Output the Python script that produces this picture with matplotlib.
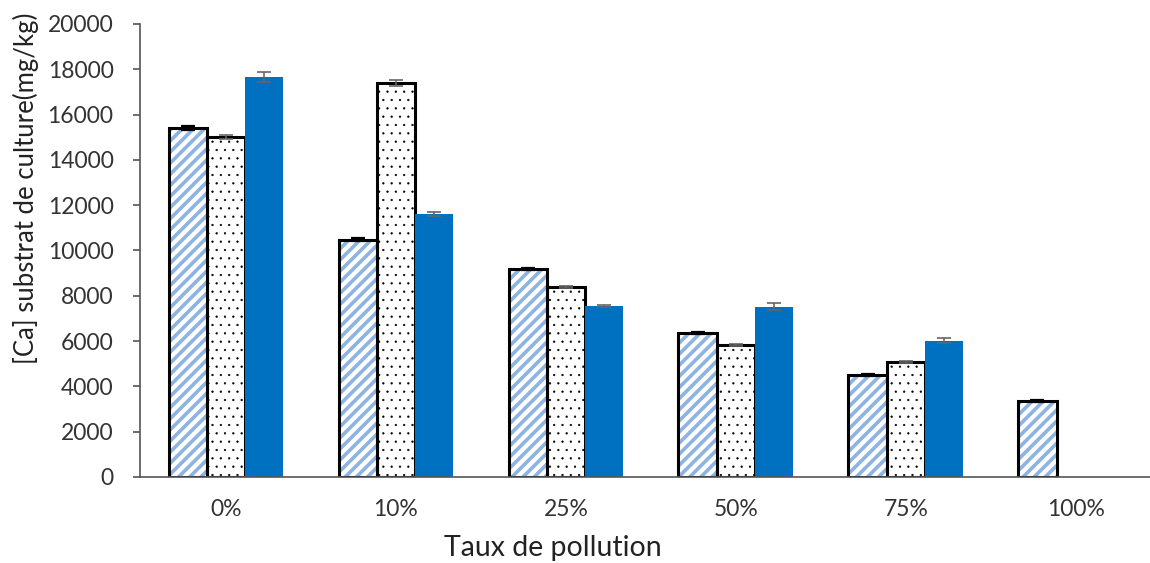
import matplotlib
matplotlib.use("Agg")
import matplotlib.pyplot as plt
import numpy as np

categories = ["0%", "10%", "25%", "50%", "75%", "100%"]
serie_hachuree = [15400, 10480, 9180, 6360, 4510, 3350]
serie_pointillee = [15010, 17400, 8390, 5830, 5080, np.nan]
serie_pleine = [17660, 11610, 7560, 7510, 6020, np.nan]
err_hachuree = [100, 60, 60, 50, 30, 40]
err_pointillee = [80, 120, 50, 40, 60, np.nan]
err_pleine = [200, 100, 50, 150, 100, np.nan]
y_ticks = list(range(0, 20001, 2000))

plt.rcParams['font.family'] = ['Lato', 'DejaVu Sans']

fig = plt.figure(figsize=(11.5, 5.63), dpi=100)
ax = fig.add_axes([0.1217, 0.1528, 0.878, 0.8046])

x = np.arange(len(categories))
w = 0.225
err_kw = dict(ecolor="#666666", elinewidth=1.2, capsize=5, capthick=1.2)


def hatch_width(bars, lw):
    for b in bars:
        if hasattr(b, "set_hatch_linewidth"):
            b.set_hatch_linewidth(lw)


# hatched series: light-blue stripes, then black outline on top
with plt.rc_context({"hatch.linewidth": 2.6}):
    stripes = ax.bar(x - w, serie_hachuree, w, color="white", edgecolor="#8DB3E2",
                     hatch="///", linewidth=0, zorder=2)
hatch_width(stripes, 2.6)
ax.bar(x - w, serie_hachuree, w, color="none", edgecolor="black",
       linewidth=2.2, yerr=err_hachuree,
       error_kw=dict(err_kw, ecolor="black", elinewidth=1.6, capthick=1.6),
       zorder=3)

# dotted series
with plt.rc_context({"hatch.linewidth": 0.4}):
    dots = ax.bar(x, serie_pointillee, w, color="white", edgecolor="black",
                  hatch="..", linewidth=0, zorder=2)
hatch_width(dots, 0.4)
ax.bar(x, serie_pointillee, w, color="none", edgecolor="black",
       linewidth=2.2, yerr=err_pointillee, error_kw=err_kw, zorder=3)

# solid series
ax.bar(x + w, serie_pleine, w, color="#0070C0", edgecolor="#0070C0",
       linewidth=0, yerr=err_pleine, error_kw=err_kw, zorder=3)

ax.set_xlim(-0.506, 5.435)
ax.set_ylim(0, 20000)
ax.set_yticks(y_ticks)
ax.set_xticks(x)
ax.set_xticklabels(categories)
ax.tick_params(axis="x", length=0, pad=16, labelsize=16.5, colors="#333333")
ax.tick_params(axis="y", length=5, width=1.2, color="#555555", pad=14,
               labelsize=16.5, labelcolor="#333333")

for s in ("top", "right"):
    ax.spines[s].set_visible(False)
ax.spines["left"].set_color("#555555")
ax.spines["left"].set_linewidth(1.2)
ax.spines["bottom"].set_color("#555555")
ax.spines["bottom"].set_linewidth(1.2)
ax.spines["bottom"].set_zorder(4)

ax.set_xlabel("Taux de pollution", fontsize=20.5, color="#222222")
ax.xaxis.set_label_coords(0.409, -0.127)
ax.set_ylabel("[Ca] substrat de culture(mg/kg)", fontsize=18.5, color="#222222")
ax.yaxis.set_label_coords(-0.100, 0.638)

fig.savefig("out.png", dpi=100)
